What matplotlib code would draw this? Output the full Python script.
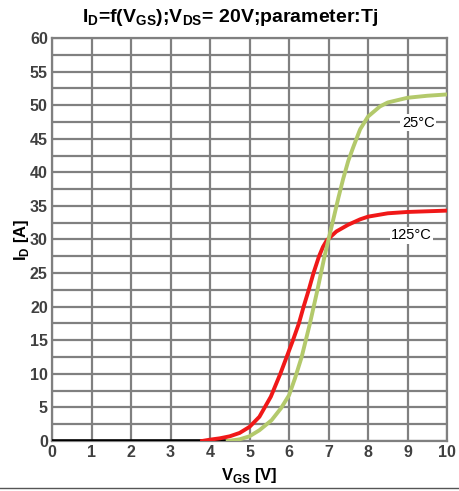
import numpy as np
import matplotlib.pyplot as plt

plt.rcParams['font.family'] = ['Liberation Sans', 'DejaVu Sans']
plt.rcParams['font.weight'] = 'bold'
plt.rcParams['mathtext.fontset'] = 'custom'
plt.rcParams['mathtext.rm'] = 'Liberation Sans:bold'
plt.rcParams['mathtext.bf'] = 'Liberation Sans:bold'

# values
vgs_off = [0.0, 4.45]
id_off = [0.0, 0.0]

vgs_25 = [4.45, 4.75, 5.0, 5.25, 5.56, 5.8, 6.0, 6.15, 6.32, 6.53, 6.72, 6.9, 7.0, 7.13, 7.25, 7.37, 7.5, 7.63, 7.8, 8.0, 8.3, 8.5, 9.0, 9.5, 10.0]
id_25 = [0.0, 0.25, 0.7, 1.6, 3.1, 4.9, 6.8, 9.3, 12.5, 17.5, 22.5, 27.5, 30.0, 33.2, 36.2, 39.0, 41.7, 43.8, 46.4, 48.3, 49.8, 50.4, 51.1, 51.4, 51.6]

vgs_125 = [3.8, 4.0, 4.25, 4.5, 4.75, 5.0, 5.25, 5.54, 5.78, 5.94, 6.1, 6.25, 6.37, 6.5, 6.62, 6.76, 6.86, 6.96, 7.2, 7.5, 7.8, 8.0, 8.5, 9.0, 9.5, 10.0]
id_125 = [0.0, 0.2, 0.4, 0.7, 1.2, 2.1, 3.6, 6.6, 10.0, 12.5, 15.0, 17.5, 20.0, 22.5, 25.0, 27.5, 28.9, 29.9, 31.2, 32.2, 33.0, 33.4, 33.9, 34.1, 34.2, 34.3]

labels = ['25°C', '125°C']
label_pos = [(9.27, 47.4), (9.1, 30.6)]

fig = plt.figure(figsize=(4.6, 4.91), dpi=100)
ax = fig.add_axes([52/460, 50/491, 395/460, 403/491])

grid_c = '#808080'
for v in np.arange(0, 10.1, 1):
    ax.axvline(v, color=grid_c, lw=1.6, zorder=1)
for i in np.arange(0, 60.1, 2.5):
    ax.axhline(i, color=grid_c, lw=1.6, zorder=1)

ax.plot(vgs_off, id_off, color='black', lw=2.6, zorder=3)
ax.plot(vgs_25, id_25, color='#b3c96b', lw=2.8, zorder=4, solid_joinstyle='round')
ax.plot(vgs_125, id_125, color='#f01818', lw=2.8, zorder=3, solid_joinstyle='round')

for txt, (x, y) in zip(labels, label_pos):
    ax.text(x, y, txt, fontsize=10.5, fontweight='normal', ha='center', va='center', zorder=5,
            bbox=dict(facecolor='white', edgecolor='none', pad=1.0))

ax.set_xlim(0, 10)
ax.set_ylim(0, 60)
ax.set_xticks(range(0, 11))
ax.set_yticks(range(0, 61, 5))
for s in ax.spines.values():
    s.set_color(grid_c)
    s.set_linewidth(1.6)
ax.tick_params(length=0, pad=3, labelsize=11.5, colors='#404040')

ax.set_xlabel(r'V$_{\mathrm{GS}}$ [V]', fontsize=12, fontweight='bold', labelpad=4)
ax.set_ylabel(r'I$_{\mathrm{D}}$ [A]', fontsize=12, fontweight='bold', labelpad=-1)
fig.text(0.5, 0.965, r'I$_{\mathrm{D}}$=f(V$_{\mathrm{GS}}$);V$_{\mathrm{DS}}$= 20V;parameter:Tj',
         ha='center', va='center', fontsize=14)

fig.add_artist(plt.Line2D([0, 1], [3/491, 3/491], color='#555555', lw=1))

fig.savefig('out.png', dpi=100)
